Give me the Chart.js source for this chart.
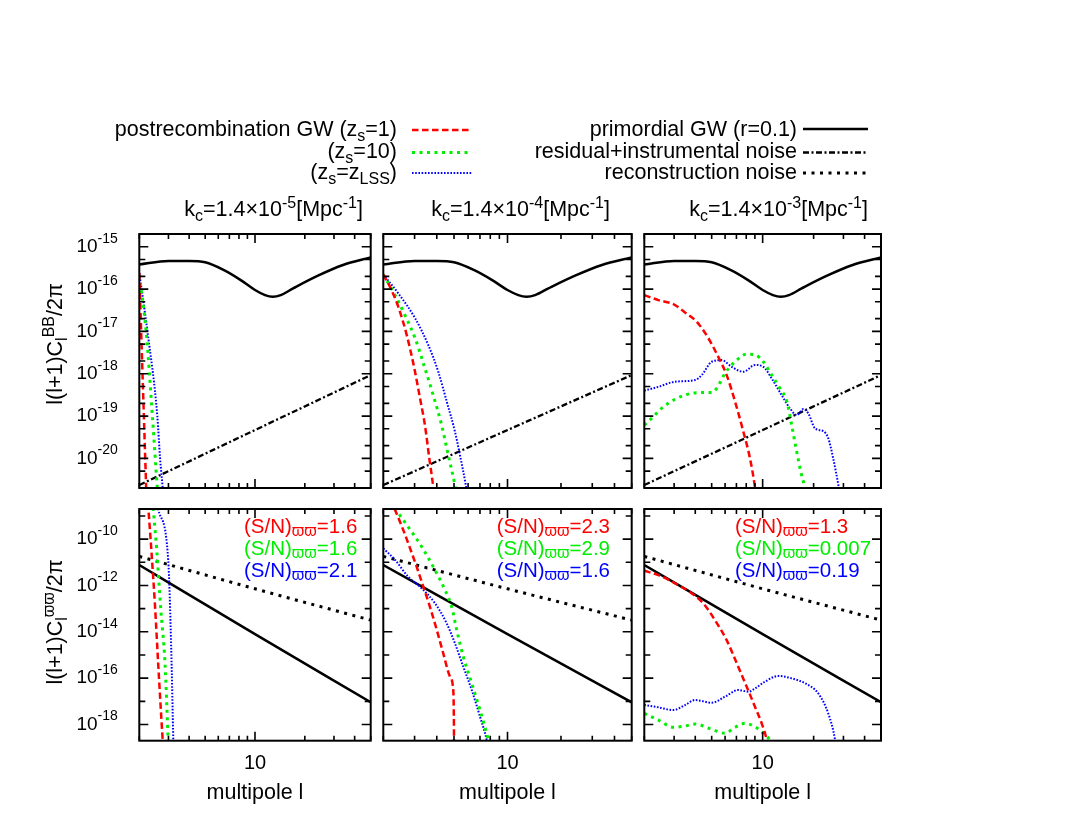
<!DOCTYPE html>
<html>
<head>
<meta charset="utf-8">
<script src="https://cdn.jsdelivr.net/npm/chart.js@4.4.1/dist/chart.umd.min.js"></script>
<style>
  body { margin: 0; background: #fff; }
  #page { position: relative; width: 1090px; height: 823px; overflow: hidden;
          font-family: "Liberation Sans", Arial, sans-serif; font-size: 21.5px; color: #000; }
  #page canvas { position: absolute; left: 0; top: 0; }
  .txt { position: absolute; white-space: nowrap; line-height: 20px; }
  .r { transform: translateX(-100%); }
  .c { transform: translateX(-50%); }
  .sub { font-size: 16px; position: relative; top: 5px; }
  .sup { font-size: 16px; position: relative; top: -8px; }
  .yt { transform: translate(-50%, -50%) rotate(-90deg); }
</style>
</head>
<body>
<div id="page">
  <canvas id="p0" width="1090" height="823"></canvas>
  <canvas id="p1" width="1090" height="823"></canvas>
  <canvas id="p2" width="1090" height="823"></canvas>
  <canvas id="p3" width="1090" height="823"></canvas>
  <canvas id="p4" width="1090" height="823"></canvas>
  <canvas id="p5" width="1090" height="823"></canvas>

  <!-- legend -->
  <div class="txt r" style="left:397px; top:118.5px">postrecombination GW (z<span class="sub">s</span>=1)</div>
  <div class="txt r" style="left:397px; top:140.5px">(z<span class="sub">s</span>=10)</div>
  <div class="txt r" style="left:397px; top:161.5px">(z<span class="sub">s</span>=z<span class="sub">LSS</span>)</div>
  <div class="txt r" style="left:797px; top:118.5px">primordial GW (r=0.1)</div>
  <div class="txt r" style="left:797px; top:140.5px">residual+instrumental noise</div>
  <div class="txt r" style="left:797px; top:161.5px">reconstruction noise</div>

  <!-- column titles -->
  <div class="txt r" style="left:363px; top:199px">k<span class="sub">c</span>=1.4×10<span class="sup">-5</span>[Mpc<span class="sup">-1</span>]</div>
  <div class="txt r" style="left:610px; top:199px">k<span class="sub">c</span>=1.4×10<span class="sup">-4</span>[Mpc<span class="sup">-1</span>]</div>
  <div class="txt r" style="left:868px; top:199px">k<span class="sub">c</span>=1.4×10<span class="sup">-3</span>[Mpc<span class="sup">-1</span>]</div>

  <!-- axis titles -->
  <div class="txt yt" style="left:56px; top:344px">l(l+1)C<span class="sub">l</span><span class="sup">BB</span>/2π</div>
  <div class="txt yt" style="left:56px; top:622px">l(l+1)C<span class="sub">l</span><span class="sup">ϖϖ</span>/2π</div>
  <div class="txt c" style="left:255px; top:781.5px">multipole l</div>
  <div class="txt c" style="left:507.5px; top:781.5px">multipole l</div>
  <div class="txt c" style="left:762.7px; top:781.5px">multipole l</div>
</div>

<script>
// ---- B-mode spectra, l(l+1)C_l/2pi (top row) ----
const L_PRIM_BB = [2, 3, 4, 5, 6.5, 8.2, 10, 11.5, 12.8, 14.3, 17, 24, 34, 50];
const V_PRIM_BB = [3.8e-16, 4.6e-16, 4.6e-16, 4.3e-16, 2.8e-16, 1.63e-16, 9.5e-17, 7.2e-17, 6.6e-17, 7.2e-17, 1.04e-16, 2.07e-16, 3.7e-16, 5.6e-16];
const L_RESID = [2, 50];
const V_RESID = [2.35e-21, 9.3e-19];

// kc = 1.4e-5
const L_BB1_Z1 = [2, 2.1, 2.2, 2.25];
const V_BB1_Z1 = [2.4e-16, 6e-19, 2e-21, 1e-22];
const L_BB1_Z10 = [2, 2.2, 2.4, 2.57, 2.7];
const V_BB1_Z10 = [2.1e-16, 1e-17, 1e-19, 2e-21, 2e-22];
const L_BB1_ZLSS = [2, 2.24, 2.57, 2.67, 2.77, 2.85];
const V_BB1_ZLSS = [2.4e-16, 1e-17, 1e-19, 1e-20, 2e-21, 5e-22];

// kc = 1.4e-4
const L_BB2_Z1 = [2, 2.18, 2.43, 2.71, 2.99, 3.22, 3.43, 3.63, 3.82, 3.95];
const V_BB2_Z1 = [2.2e-16, 1.13e-16, 3.8e-17, 8.2e-18, 1.34e-18, 2.6e-19, 6.1e-20, 1.0e-20, 2.1e-21, 5e-22];
const L_BB2_Z10 = [2, 2.33, 2.65, 3.02, 3.43, 3.82, 4.26, 4.64, 5.06, 5.3];
const V_BB2_Z10 = [2.2e-16, 7.2e-17, 2.4e-17, 6.9e-18, 1.34e-18, 3.1e-19, 6.1e-20, 1.2e-20, 2.35e-21, 8e-22];
const L_BB2_ZLSS = [2, 2.43, 3.02, 3.58, 4.08, 4.55, 5.06, 5.4, 5.82, 6.0];
const V_BB2_ZLSS = [2.2e-16, 7.9e-17, 2.04e-17, 4.8e-18, 1.11e-18, 2.2e-19, 4.3e-20, 1.2e-20, 2.35e-21, 1e-21];

// kc = 1.4e-3
const L_BB3_Z1 = [2, 2.42, 2.97, 3.48, 4.08, 4.78, 5.47, 6.13, 6.87, 7.69, 8.42, 9.01, 9.3];
const V_BB3_Z1 = [7.2e-17, 5.5e-17, 4.4e-17, 2.8e-17, 1.69e-17, 6.9e-18, 2.5e-18, 9.3e-19, 2.2e-19, 4.3e-20, 1.0e-20, 2.1e-21, 8e-22];
const L_BB3_Z10 = [2, 2.21, 2.53, 3.04, 3.64, 4.37, 5.0, 5.35, 5.99, 6.87, 8.05, 9.01, 10.09, 11.3, 12.66, 13.9, 14.84, 15.9, 16.8, 17.7, 18.2];
const V_BB3_Z10 = [6.1e-20, 8.8e-20, 1.52e-19, 2.5e-19, 3.3e-19, 3.6e-19, 3.6e-19, 4.5e-19, 1.02e-18, 1.92e-18, 2.9e-18, 2.8e-18, 1.92e-18, 9.3e-19, 4.5e-19, 2.2e-19, 6.1e-20, 1.43e-20, 4.8e-21, 2.1e-21, 1e-21];
const L_BB3_ZLSS = [2, 2.42, 3.04, 3.99, 4.37, 5.0, 5.73, 6.56, 7.69, 9.01, 10.09, 11.3, 12.96, 14.5, 15.9, 17.4, 18.6, 20.4, 22.8, 24.4, 26.1, 28.0, 29];
const V_BB3_ZLSS = [4.0e-19, 4.9e-19, 6.5e-19, 7.1e-19, 9.3e-19, 1.92e-18, 2.1e-18, 1.46e-18, 1.11e-18, 1.61e-18, 1.46e-18, 7.8e-19, 3.1e-19, 1.52e-19, 1.06e-19, 1.47e-19, 1.16e-19, 5.1e-20, 4.4e-20, 3.0e-20, 1.0e-20, 2.35e-21, 1e-21];

// ---- curl-mode spectra (bottom row) ----
const L_PRIM_WW = [2, 10, 50];
const V_PRIM_WW = [7.6e-12, 8.0e-15, 9.1e-18];
const L_RECON = [2, 10, 50];
const V_RECON = [1.8e-11, 7.2e-13, 3.2e-14];

const L_WW1_Z1 = [2.23, 2.27, 2.38, 2.49, 2.6, 2.77, 2.85];
const V_WW1_Z1 = [1e-8, 2e-9, 1.74e-11, 1.21e-13, 4.4e-16, 2e-19, 1e-20];
const L_WW1_Z10 = [2.39, 2.43, 2.55, 2.69, 2.86, 2.99, 3.05];
const V_WW1_Z10 = [1e-8, 2e-9, 3.4e-11, 1.2e-13, 4.4e-16, 2e-19, 1e-20];
const L_WW1_ZLSS = [2.5, 2.6, 2.99, 3.12, 3.21, 3.25];
const V_WW1_ZLSS = [1e-8, 2e-9, 1.26e-11, 1.6e-15, 2e-19, 1e-20];

const L_WW2_Z1 = [2.2, 2.33, 2.59, 2.83, 3.08, 3.36, 3.66, 4.0, 4.35, 4.75, 4.95, 4.99, 5.0, 5.01];
const V_WW2_Z1 = [5e-9, 1.8e-9, 2.5e-10, 4.0e-11, 6.5e-12, 8.8e-13, 1.2e-13, 1.2e-14, 1.18e-15, 1.15e-16, 3.1e-17, 2.2e-18, 2.1e-19, 1e-20];
const L_WW2_Z10 = [2.2, 2.33, 2.76, 3.29, 3.91, 4.45, 4.85, 5.18, 5.64, 6.29, 7.0, 7.8, 8.0];
const V_WW2_Z10 = [4e-9, 2.1e-9, 3.4e-10, 4.7e-11, 4.6e-12, 6.4e-13, 1.2e-13, 1.2e-14, 8.4e-16, 6.0e-17, 4.2e-18, 2.1e-19, 8e-20];
const L_WW2_ZLSS = [2, 2.33, 2.76, 3.29, 3.91, 4.55, 5.06, 5.64, 6.29, 7.0, 7.64, 7.9];
const V_WW2_ZLSS = [4.0e-11, 1.26e-11, 2.4e-12, 7.5e-13, 1.7e-13, 2.3e-14, 3.2e-15, 3.1e-16, 3.1e-17, 2.2e-18, 2.1e-19, 5e-20];

const L_WW3_Z1 = [2, 2.42, 3.04, 3.81, 4.46, 5.23, 6.13, 7.03, 8.05, 9.01, 9.87, 10.57, 10.9];
const V_WW3_Z1 = [4.3e-12, 2.8e-12, 1.24e-12, 4.6e-13, 1.7e-13, 3.2e-14, 4.4e-15, 4.4e-16, 4.3e-17, 5.8e-18, 1.12e-18, 2.1e-19, 5e-20];
const L_WW3_Z10 = [2, 2.42, 2.97, 3.48, 3.99, 5.0, 5.99, 6.87, 7.87, 9.01, 10.09, 11.05, 11.6];
const V_WW3_Z10 = [3.0e-18, 1.56e-18, 7.6e-19, 8.6e-19, 1.05e-18, 6.2e-19, 4.2e-19, 7.6e-19, 1.12e-18, 8.0e-19, 4.2e-19, 2.1e-19, 1e-19];
const L_WW3_ZLSS = [2, 2.42, 2.97, 3.48, 3.99, 5.0, 5.99, 7.18, 8.23, 9.01, 10.3, 12.4, 14.84, 17.8, 21.3, 24.4, 26.8, 27.5];
const V_WW3_ZLSS = [6.9e-18, 5.5e-18, 4.2e-18, 6.9e-18, 1.14e-17, 8.7e-18, 1.58e-17, 3.1e-17, 2.6e-17, 3.6e-17, 7.0e-17, 1.24e-16, 9.8e-17, 6.0e-17, 2.2e-17, 3.0e-18, 2.1e-19, 5e-20];

// signal-to-noise labels, per kc (z_s = 1, 10, z_LSS)
const SN_1 = ['1.6', '1.6', '2.1'];
const SN_2 = ['2.3', '2.9', '1.6'];
const SN_3 = ['1.3', '0.007', '0.19'];

// axes
const L_RANGE = [2, 50];
const BB_RANGE = [2e-21, 2e-15];
const WW_RANGE = [2e-19, 2e-9];
const X_TICKS = [2, 3, 4, 5, 6, 7, 8, 9, 10, 20, 30, 40, 50];
const X_LABELED = [10];
const BB_LABEL_EXP = [-15, -16, -17, -18, -19, -20];
const WW_LABEL_EXP = [-10, -12, -14, -16, -18];
const WW_MINOR_EXP = [-9, -11, -13, -15, -17];

// ---- layout / styles ----
const W = 1090, H = 823;
const COLS = [[139.3, 370.7], [383.3, 631.7], [644.3, 881]];
const ROWS = [[234, 488], [509, 740.7]];
const FONT = '"Liberation Sans", Arial, sans-serif';
const RED = '#ff0000', GREEN = '#00ee00', BLUE = '#0000ff';

const STYLE = {
  z1:    { borderColor: RED,   borderWidth: 2.5, borderDash: [6.5, 3.5] },
  z10:   { borderColor: GREEN, borderWidth: 3,   borderDash: [3, 4.5] },
  zlss:  { borderColor: BLUE,  borderWidth: 2,   borderDash: [1.6, 1.6] },
  prim:  { borderColor: '#000', borderWidth: 2.5, borderDash: [] },
  resid: { borderColor: '#000', borderWidth: 2.3, borderDash: [6, 2.5, 2, 2.5] },
  recon: { borderColor: '#000', borderWidth: 3,   borderDash: [3, 5.5] },
};

const LEGEND_ROWS = [
  { key: 'z1',    x0: 412, x1: 472, y: 130 },
  { key: 'z10',   x0: 412, x1: 472, y: 152.5 },
  { key: 'zlss',  x0: 412, x1: 472, y: 173 },
  { key: 'prim',  x0: 803, x1: 868, y: 129 },
  { key: 'resid', x0: 803, x1: 868, y: 152.5 },
  { key: 'recon', x0: 803, x1: 868, y: 173 },
];

function pts(ls, vs) { return ls.map((l, i) => ({ x: l, y: vs[i] })); }

// parts: [text, kind] with kind 0 normal, 1 superscript, -1 subscript
function richText(ctx, parts, x, y, align, base = 20, small = 16) {
  const size = k => (k === 0 ? base : small);
  const shift = k => (k === 1 ? -8 : k === -1 ? 5 : 0);
  let w = 0;
  parts.forEach(([t, k]) => { ctx.font = `${size(k)}px ${FONT}`; w += ctx.measureText(t).width; });
  let cx = align === 'right' ? x - w : align === 'center' ? x - w / 2 : x;
  parts.forEach(([t, k]) => {
    ctx.font = `${size(k)}px ${FONT}`;
    ctx.fillText(t, cx, y + shift(k));
    cx += ctx.measureText(t).width;
  });
}

// frame, inward ticks on all sides, tick labels, S/N notes
const frame = {
  id: 'frame',
  afterDatasetsDraw(chart, args, o) {
    const { ctx, chartArea: a } = chart;
    const xs = chart.scales.x, ys = chart.scales.y;
    ctx.save();
    ctx.strokeStyle = '#000';
    ctx.lineWidth = 1.6;
    ctx.beginPath();
    X_TICKS.forEach(l => {
      const px = xs.getPixelForValue(l);
      const len = X_LABELED.includes(l) ? 9 : 5;
      ctx.moveTo(px, a.bottom); ctx.lineTo(px, a.bottom - len);
      ctx.moveTo(px, a.top); ctx.lineTo(px, a.top + len);
    });
    const yTick = (v, len) => {
      const py = ys.getPixelForValue(v);
      ctx.moveTo(a.left, py); ctx.lineTo(a.left + len, py);
      ctx.moveTo(a.right, py); ctx.lineTo(a.right - len, py);
    };
    o.yMajor.forEach(v => yTick(v, 9));
    o.yMinor.forEach(v => yTick(v, 6));
    ctx.stroke();
    ctx.lineWidth = 2;
    ctx.strokeRect(a.left, a.top, a.right - a.left, a.bottom - a.top);

    ctx.fillStyle = '#000';
    ctx.textBaseline = 'middle';
    if (o.yLabels) {
      o.yMajor.forEach(v => {
        const e = Math.round(Math.log10(v));
        richText(ctx, [['10', 0], [String(e), 1]], a.left - 21.5, ys.getPixelForValue(v), 'right', 19, 14);
      });
    }
    if (o.xLabels) {
      X_LABELED.forEach(l => richText(ctx, [[String(l), 0]], xs.getPixelForValue(l), a.bottom + 23, 'center', 20));
    }
    if (o.sn) {
      const cols = [RED, GREEN, BLUE];
      o.sn.forEach((s, i) => {
        ctx.fillStyle = cols[i];
        richText(ctx, [['(S/N)', 0], ['ϖϖ', -1], ['=' + s, 0]],
          a.left + o.snX * (a.right - a.left), a.top + 18 + 22 * i, 'left', 20.5, 16);
      });
    }
    ctx.restore();
  }
};

const legendSamples = {
  id: 'legendSamples',
  afterDraw(chart) {
    const ctx = chart.ctx;
    LEGEND_ROWS.forEach(r => {
      const st = STYLE[r.key];
      ctx.save();
      ctx.strokeStyle = st.borderColor;
      ctx.lineWidth = st.borderWidth;
      ctx.setLineDash(st.borderDash);
      ctx.beginPath();
      ctx.moveTo(r.x0, r.y);
      ctx.lineTo(r.x1, r.y);
      ctx.stroke();
      ctx.restore();
    });
  }
};

function decadeTicks(exps) { return exps.map(e => Math.pow(10, e)); }
function bbMinor() {
  const out = [];
  for (let e = -21; e <= -16; e++) [2, 5].forEach(m => {
    const v = m * Math.pow(10, e);
    if (v > BB_RANGE[0] * 1.01 && v < BB_RANGE[1] * 0.99) out.push(v);
  });
  return out;
}

function makePanel(id, col, row, series, extra) {
  const [x0, x1] = COLS[col];
  const [y0, y1] = ROWS[row];
  const yr = row === 0 ? BB_RANGE : WW_RANGE;
  const datasets = series.map(([key, ls, vs]) => Object.assign({
    data: pts(ls, vs),
    pointRadius: 0,
    fill: false,
    borderCapStyle: 'butt',
    cubicInterpolationMode: 'monotone',
  }, STYLE[key]));

  const frameOpts = row === 0
    ? { yMajor: decadeTicks(BB_LABEL_EXP), yMinor: bbMinor() }
    : { yMajor: decadeTicks(WW_LABEL_EXP), yMinor: decadeTicks(WW_MINOR_EXP) };
  frameOpts.yLabels = col === 0;
  frameOpts.xLabels = row === 1;
  Object.assign(frameOpts, extra || {});

  return new Chart(document.getElementById(id), {
    type: 'line',
    data: { datasets },
    options: {
      responsive: false,
      animation: false,
      devicePixelRatio: 1,
      layout: { padding: { left: x0, right: W - x1, top: y0, bottom: H - y1 } },
      scales: {
        x: { type: 'logarithmic', min: L_RANGE[0], max: L_RANGE[1], bounds: 'data', display: false },
        y: { type: 'logarithmic', min: yr[0], max: yr[1], bounds: 'data', display: false },
      },
      plugins: { legend: { display: false }, tooltip: { enabled: false }, frame: frameOpts },
      events: [],
    },
    plugins: id === 'p0' ? [frame, legendSamples] : [frame],
  });
}

makePanel('p0', 0, 0, [
  ['z1', L_BB1_Z1, V_BB1_Z1], ['z10', L_BB1_Z10, V_BB1_Z10], ['zlss', L_BB1_ZLSS, V_BB1_ZLSS],
  ['prim', L_PRIM_BB, V_PRIM_BB], ['resid', L_RESID, V_RESID]]);
makePanel('p1', 1, 0, [
  ['z1', L_BB2_Z1, V_BB2_Z1], ['z10', L_BB2_Z10, V_BB2_Z10], ['zlss', L_BB2_ZLSS, V_BB2_ZLSS],
  ['prim', L_PRIM_BB, V_PRIM_BB], ['resid', L_RESID, V_RESID]]);
makePanel('p2', 2, 0, [
  ['z1', L_BB3_Z1, V_BB3_Z1], ['z10', L_BB3_Z10, V_BB3_Z10], ['zlss', L_BB3_ZLSS, V_BB3_ZLSS],
  ['prim', L_PRIM_BB, V_PRIM_BB], ['resid', L_RESID, V_RESID]]);

makePanel('p3', 0, 1, [
  ['z1', L_WW1_Z1, V_WW1_Z1], ['z10', L_WW1_Z10, V_WW1_Z10], ['zlss', L_WW1_ZLSS, V_WW1_ZLSS],
  ['prim', L_PRIM_WW, V_PRIM_WW], ['recon', L_RECON, V_RECON]], { sn: SN_1, snX: 0.4525 });
makePanel('p4', 1, 1, [
  ['z1', L_WW2_Z1, V_WW2_Z1], ['z10', L_WW2_Z10, V_WW2_Z10], ['zlss', L_WW2_ZLSS, V_WW2_ZLSS],
  ['prim', L_PRIM_WW, V_PRIM_WW], ['recon', L_RECON, V_RECON]], { sn: SN_2, snX: 0.4565 });
makePanel('p5', 2, 1, [
  ['z1', L_WW3_Z1, V_WW3_Z1], ['z10', L_WW3_Z10, V_WW3_Z10], ['zlss', L_WW3_ZLSS, V_WW3_ZLSS],
  ['prim', L_PRIM_WW, V_PRIM_WW], ['recon', L_RECON, V_RECON]], { sn: SN_3, snX: 0.383 });
</script>
</body>
</html>
